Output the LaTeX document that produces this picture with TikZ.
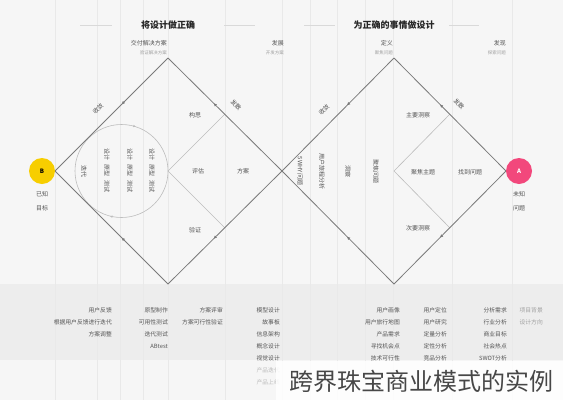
\documentclass[tikz,border=0pt]{standalone}
\usepackage{fontspec}
\setmainfont{Noto Sans CJK SC}
\usetikzlibrary{decorations.markings,arrows.meta}
\definecolor{bgc}{HTML}{F6F6F6}
\definecolor{bandc}{HTML}{EDEDED}
\definecolor{colc}{HTML}{E9E9E9}
\definecolor{edgec}{HTML}{7A7A7A}
\definecolor{innc}{HTML}{BDBDBD}
\definecolor{txtc}{HTML}{555555}
\definecolor{lightc}{HTML}{A0A0A0}
\definecolor{yelc}{HTML}{F7CE00}
\definecolor{pinkc}{HTML}{F2487C}
\tikzset{
  edgeline/.style={draw=edgec,line width=0.8pt},
  innline/.style={draw=innc,line width=0.6pt},
  midarrow/.style={postaction={decorate},decoration={markings,
     mark=at position #1 with {\arrow{Latex[length=3.2pt,width=3.2pt]}}}},
  colline/.style={draw=colc,line width=0.6pt},
  titletxt/.style={font=\fontsize{9}{10}\selectfont\bfseries,text=black!85},
  toplbl/.style={font=\fontsize{6}{7}\selectfont,text=txtc,anchor=east,inner sep=0pt},
  subtxt/.style={font=\fontsize{4.5}{5}\selectfont,text=lightc,anchor=east,inner sep=0pt},
  lbl/.style={font=\fontsize{6}{7}\selectfont,text=txtc,inner sep=1pt},
  elbl/.style={lbl,inner sep=0pt},
  vlbl/.style={lbl,rotate=-90},
  btxt/.style={font=\fontsize{5.8}{7}\selectfont,text=txtc,anchor=east,inner sep=0pt},
  ftxt/.style={btxt,text=lightc!70},
  dot/.style={circle,minimum size=26pt,inner sep=0pt,text=white,font=\fontsize{6}{6}\selectfont\bfseries},
}
\begin{document}
\begin{tikzpicture}[x=1pt,y=-1pt]
\useasboundingbox (0,0) rectangle (563,400);
\fill[bgc] (0,0) rectangle (563,400);
\fill[bandc] (0,284) rectangle (563,360);
% column lines
\foreach \cx in {55,97,120,143,168,225,282,310,337,365,393,452,512}
  \draw[colline] (\cx,0) -- (\cx,400);

% titles
\node[titletxt] (t1) at (168,25) {将设计做正确};
\node[titletxt] (t2) at (394,25) {为正确的事情做设计};
\coordinate (t1a) at (80,25);  \coordinate (t1b) at (112,25);
\coordinate (t1c) at (224,25); \coordinate (t1d) at (255,25);
\coordinate (t2a) at (304,25); \coordinate (t2b) at (335,25);
\coordinate (t2c) at (449,25); \coordinate (t2d) at (479,25);
\draw[colline,draw=black!15] (t1a) -- (t1b) (t1c) -- (t1d) (t2a) -- (t2b) (t2c) -- (t2d);

% top labels
\node[toplbl] (h1) at (167,43) {交付解决方案};
\node[subtxt] (h1s) at (167,53) {验证解决方案};
\node[toplbl] (h2) at (284,43) {发展};
\node[subtxt] (h2s) at (284,53) {开发方案};
\node[toplbl] (h3) at (393,43) {定义};
\node[subtxt] (h3s) at (393,53) {聚焦问题};
\node[toplbl] (h4) at (506,43) {发现};
\node[subtxt] (h4s) at (506,53) {探索问题};

% diamond vertices
\coordinate (lw) at (55,171);
\coordinate (lt) at (168,58);
\coordinate (lb) at (168,284);
\coordinate (md) at (282,171);
\coordinate (rt) at (394,58);
\coordinate (rb) at (394,284);
\coordinate (re) at (506,171);
\coordinate (lc) at (168,171);
\coordinate (lit) at (225,114);
\coordinate (lib) at (225,228);
\coordinate (rc) at (394,171);
\coordinate (rit) at (450,114);
\coordinate (rib) at (450,228);

% inner lines
\draw[innline] (lit) -- (lc) -- (lib);
\draw[innline] (rit) -- (rc) -- (rib);
\draw[innline,postaction={decorate},decoration={markings,
  mark=at position 0.29 with {\arrow{Latex[length=2.6pt,width=2.6pt]}},
  mark=at position 0.80 with {\arrow{Latex[length=2.6pt,width=2.6pt]}}}]
  (121.5,171) circle (46.5);

% outer edges (flow from A to B)
\draw[edgeline,midarrow=0.59] (re) -- (rt);
\draw[edgeline,midarrow=0.42] (rt) -- (md);
\draw[edgeline,midarrow=0.59] (re) -- (rb);
\draw[edgeline,midarrow=0.42] (rb) -- (md);
\draw[edgeline,midarrow=0.60] (md) -- (lt);
\draw[edgeline,midarrow=0.41] (lt) -- (lw);
\draw[edgeline,midarrow=0.60] (md) -- (lb);
\draw[edgeline,midarrow=0.41] (lb) -- (lw);

% end dots
\node[dot,fill=yelc,text=black] (B) at (42,171) {B};
\node[lbl] (B1) at (42,194) {已知};
\node[lbl] (B2) at (42,208) {目标};
\node[dot,fill=pinkc] (A) at (519,171) {A};
\node[lbl] (A1) at (519,194) {未知};
\node[lbl] (A2) at (519,208) {问题};

% edge labels (outside the edges)
\node[elbl,rotate=45] (e1) at (98,109) {收敛};
\node[elbl,rotate=-45] (e2) at (236,105) {发散};
\node[elbl,rotate=45] (e3) at (324,110) {收敛};
\node[elbl,rotate=-45] (e4) at (459,104) {发散};

% left diamond labels
\node[lbl] (l1) at (195,115) {构思};
\node[lbl] (l2) at (198,171) {评估};
\node[lbl] (l3) at (243,171) {方案};
\node[lbl] (l4) at (195,230) {验证};
\node[vlbl] (c0) at (84,171) {迭代};
\foreach \cx/\nm in {107/ca,130/cb,152/cc}{
  \node[vlbl] (\nm1) at (\cx,154) {设计};
  \node[vlbl] (\nm2) at (\cx,170) {原型};
  \node[vlbl] (\nm3) at (\cx,186) {测试};
}

% right diamond labels
\node[lbl] (r1) at (418,115) {主要洞察};
\node[lbl] (r2) at (423,172) {聚焦主题};
\node[lbl] (r3) at (470,172) {找到问题};
\node[lbl] (r4) at (418,228) {次要洞察};
\node[vlbl] (v1) at (300,171) {5WHY问题};
\node[vlbl] (v2) at (322,171) {用户旅程分析};
\node[vlbl] (v3) at (348,171) {洞察};
\node[vlbl] (v4) at (376,171) {聚焦问题};

% bottom columns
\node[btxt] (b11) at (112,310) {用户反馈};
\node[btxt] (b12) at (112,322) {根据用户反馈进行迭代};
\node[btxt] (b13) at (112,334) {方案调整};

\node[btxt] (b21) at (168,310) {原型制作};
\node[btxt] (b22) at (168,322) {可用性测试};
\node[btxt] (b23) at (168,334) {迭代测试};
\node[btxt] (b24) at (168,346) {ABtest};

\node[btxt] (b31) at (223,310) {方案评审};
\node[btxt] (b32) at (223,322) {方案可行性验证};

\node[btxt] (b41) at (280,310) {模型设计};
\node[btxt] (b42) at (280,322) {故事板};
\node[btxt] (b43) at (280,334) {信息架构};
\node[btxt] (b44) at (280,346) {概念设计};
\node[btxt] (b45) at (280,358) {视觉设计};
\node[ftxt] (b46) at (280,370) {产品迭代};
\node[ftxt] (b47) at (280,382) {产品上线};

\node[btxt] (b51) at (400,310) {用户画像};
\node[btxt] (b52) at (400,322) {用户旅行地图};
\node[btxt] (b53) at (400,334) {产品需求};
\node[btxt] (b54) at (400,346) {寻找机会点};
\node[btxt] (b55) at (400,358) {技术可行性};

\node[btxt] (b61) at (447,310) {用户定位};
\node[btxt] (b62) at (447,322) {用户研究};
\node[btxt] (b63) at (447,334) {定量分析};
\node[btxt] (b64) at (447,346) {定性分析};
\node[btxt] (b65) at (447,358) {竞品分析};

\node[btxt] (b71) at (507,310) {分析需求};
\node[btxt] (b72) at (507,322) {行业分析};
\node[btxt] (b73) at (507,334) {商业目标};
\node[btxt] (b74) at (507,346) {社会热点};
\node[btxt] (b75) at (507,358) {SWOT分析};

\node[btxt,text=lightc] (b81) at (543,310) {项目背景};
\node[btxt,text=lightc] (b82) at (543,322) {设计方向};

% watermark
\fill[white,opacity=0.85] (276,361) rectangle (563,400);
\node[font=\fontsize{24}{26}\selectfont,text=black!72,inner sep=0pt] (wm) at (421,381) {跨界珠宝商业模式的实例};
\end{tikzpicture}
\end{document}
